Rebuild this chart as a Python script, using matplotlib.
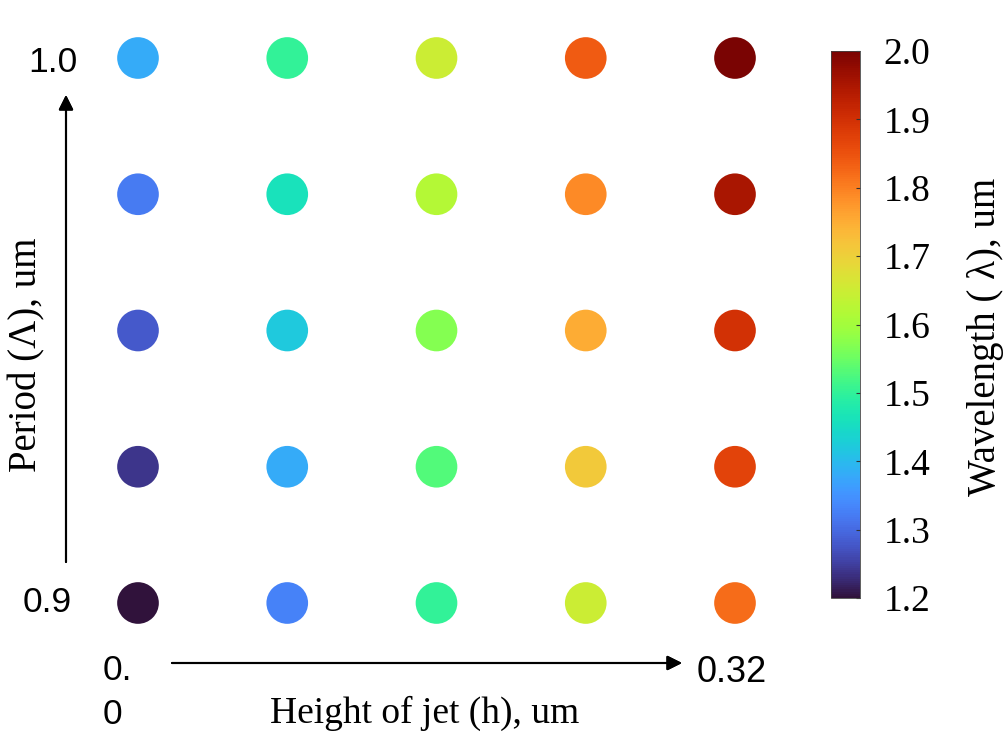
import matplotlib.pyplot as plt
import numpy as np
from matplotlib.colors import Normalize

# jet height (um) for each column, period (um) for each row
heights = [0.0, 0.08, 0.16, 0.24, 0.32]
periods = [0.9, 0.925, 0.95, 0.975, 1.0]

# resonant wavelength (um), one row per period, bottom to top
wavelength = [
    [1.20, 1.33, 1.50, 1.65, 1.82],   # 0.900
    [1.24, 1.38, 1.53, 1.71, 1.87],   # 0.925
    [1.28, 1.42, 1.57, 1.75, 1.90],   # 0.950
    [1.32, 1.46, 1.62, 1.79, 1.95],   # 0.975
    [1.38, 1.50, 1.65, 1.84, 2.00],   # 1.000
]
cbar_ticks = [1.2, 1.3, 1.4, 1.5, 1.6, 1.7, 1.8, 1.9, 2.0]

W, H = 1008, 733
fig = plt.figure(figsize=(W / 100, H / 100), dpi=100)


def fx(px):
    return px / W


def fy(py):
    return 1 - py / H


serif = 'Liberation Serif'
sans = 'Liberation Sans'

# dot grid
ax = fig.add_axes((fx(100), fy(640), fx(775) - fx(100), fy(20) - fy(640)))
xx, yy = np.meshgrid(heights, periods)
norm = Normalize(vmin=1.2, vmax=2.0)
sc = ax.scatter(xx.ravel(), yy.ravel(), c=np.array(wavelength).ravel(),
                cmap='turbo', norm=norm, s=900, edgecolors='none')
xs = (0.32 - 0.0) / (735 - 138)
ys = (1.0 - 0.9) / (603 - 58)
ax.set_xlim(0.0 - (138 - 100) * xs, 0.32 + (775 - 735) * xs)
ax.set_ylim(0.9 - (640 - 603) * ys, 1.0 + (58 - 20) * ys)
ax.axis('off')

# colorbar
cax = fig.add_axes((fx(831), fy(598), fx(860) - fx(831), fy(51) - fy(598)))
cb = fig.colorbar(sc, cax=cax, ticks=cbar_ticks)
cb.outline.set_linewidth(0.6)
cb.outline.set_edgecolor('#444444')
cax.tick_params(length=3, width=0.8, direction='in', color='#333333',
                labelsize=27, pad=17)
cb.ax.set_yticklabels([f'{t:.1f}' for t in cbar_ticks])
for lab in cax.get_yticklabels():
    lab.set_fontfamily(serif)
fig.text(fx(985), fy(337), 'Wavelength ( λ), um', rotation=90,
         ha='center', va='center', fontsize=28, family=serif)

# axis arrows
arrow = dict(arrowstyle='-|>', color='black', lw=1.5, mutation_scale=22,
             shrinkA=0, shrinkB=0)
fig.add_artist(plt.annotate('', xy=(fx(66), fy(95)), xytext=(fx(66), fy(562)),
                            xycoords='figure fraction', arrowprops=arrow))
fig.add_artist(plt.annotate('', xy=(fx(682), fy(663)), xytext=(fx(172), fy(663)),
                            xycoords='figure fraction', arrowprops=arrow))

# end labels
fig.text(fx(53), fy(62), '1.0', ha='center', va='center', fontsize=25.5, family=sans)
fig.text(fx(47), fy(603), '0.9', ha='center', va='center', fontsize=25.5, family=sans)
fig.text(fx(103), fy(671), '0.', ha='left', va='center', fontsize=25.5, family=sans)
fig.text(fx(103), fy(715), '0', ha='left', va='center', fontsize=25.5, family=sans)
fig.text(fx(697), fy(672), '0.32', ha='left', va='center', fontsize=26, family=sans)

# axis titles
fig.text(fx(27), fy(355), 'Period (Λ), um', rotation=90, ha='center',
         va='center', fontsize=28, family=serif)
fig.text(fx(425), fy(713), 'Height of jet (h), um', ha='center',
         va='center', fontsize=27, family=serif)

fig.savefig('out.png', dpi=100, facecolor='white')
